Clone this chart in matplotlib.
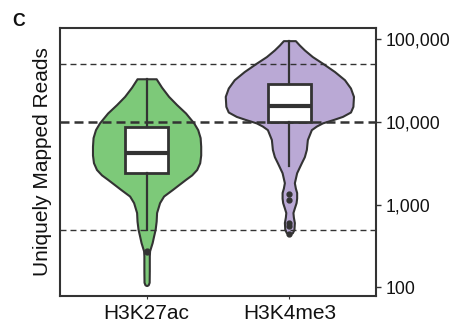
import numpy as np
import matplotlib
matplotlib.use("Agg")
import matplotlib.pyplot as plt
from matplotlib.ticker import FixedLocator, FuncFormatter, NullLocator

plt.rcParams['font.family'] = ['Liberation Sans', 'DejaVu Sans']

categories = ["H3K27ac", "H3K4me3"]
fill_colors = ["#7dc979", "#baa9d5"]

# Violin outline profiles: reads level and half-width (x data units)
k27_levels = [33270, 26300, 20370, 16220, 12820, 9730, 8070, 6460, 5080, 3980, 3210,
              2660, 2290, 2020, 1740, 1530, 1270, 1057, 802, 631, 504, 417, 348, 302,
              276, 240, 158, 115, 107, 105]
k27_half = [0.067, 0.105, 0.154, 0.210, 0.273, 0.330, 0.358, 0.375, 0.379, 0.379, 0.372,
            0.351, 0.316, 0.273, 0.224, 0.182, 0.119, 0.091, 0.070, 0.067, 0.060, 0.049,
            0.039, 0.028, 0.021, 0.019, 0.019, 0.018, 0.011, 0.0]

k4_levels = [96160, 85100, 74300, 61700, 51400, 40700, 32400, 25700, 20370, 15420, 13180,
             11670, 10720, 9730, 8910, 8070, 6120, 4650, 3800, 3210, 2430, 1840, 1585,
             1400, 1200, 1057, 912, 802, 708, 607, 501, 457, 439]
k4_half = [0.042, 0.070, 0.105, 0.161, 0.231, 0.316, 0.386, 0.428, 0.449, 0.445, 0.428,
           0.372, 0.309, 0.231, 0.189, 0.154, 0.126, 0.119, 0.105, 0.084, 0.051, 0.035,
           0.042, 0.051, 0.051, 0.047, 0.035, 0.025, 0.028, 0.035, 0.032, 0.021, 0.0]

# Box-plot statistics
q1 = [2430, 10000]
medians = [4240, 15700]
q3 = [8600, 28700]
whisker_low = [490, 2900]
whisker_high = [33300, 96000]
fliers = [[265, 272], [1330, 1128, 607, 552, 440]]

threshold_levels = [50000, 10000, 500]
ytick_values = [100, 1000, 10000, 100000]

edge = "#333333"

fig = plt.figure(figsize=(4.61, 3.24), dpi=100)
ax = fig.add_axes([0.130, 0.0864, 0.686, 0.8272])
ax.set_yscale('log')

profiles = [(k27_levels, k27_half), (k4_levels, k4_half)]
for i, (lv, hw) in enumerate(profiles):
    lv = np.array(lv, dtype=float)
    hw = np.array(hw, dtype=float)
    ax.fill_betweenx(lv, i - hw, i + hw, facecolor=fill_colors[i], edgecolor=edge,
                     linewidth=1.5, zorder=1, joinstyle='round')

# threshold lines
for lvl in threshold_levels:
    if lvl == 10000:
        ax.axhline(lvl, color=edge, linewidth=1.8, linestyle=(0, (3.6, 2.0)), zorder=2)
    else:
        ax.axhline(lvl, color=edge, linewidth=1.0, linestyle=(0, (4.3, 2.9)), zorder=2)

stats = []
for i in range(2):
    stats.append(dict(med=medians[i], q1=q1[i], q3=q3[i], whislo=whisker_low[i],
                      whishi=whisker_high[i], fliers=fliers[i], label=categories[i]))
ax.bxp(stats, positions=[0, 1], widths=0.30, showcaps=False, patch_artist=True,
       boxprops=dict(facecolor='white', edgecolor=edge, linewidth=2.0),
       medianprops=dict(color=edge, linewidth=3.0),
       whiskerprops=dict(color=edge, linewidth=1.6),
       flierprops=dict(marker='o', markersize=3.5, markerfacecolor=edge,
                       markeredgecolor=edge),
       zorder=3)

ax.set_xlim(-0.607, 1.608)
ax.set_ylim(78.5, 136800)

ax.yaxis.tick_right()
ax.yaxis.set_major_locator(FixedLocator(ytick_values))
ax.yaxis.set_minor_locator(NullLocator())
ax.yaxis.set_major_formatter(FuncFormatter(lambda v, p: f"{int(round(v)):,}"))
ax.tick_params(axis='y', which='major', length=3.5, width=1.0, color=edge,
               labelsize=12.7, pad=3, labelcolor='#111111')
ax.set_xticks([0, 1])
ax.set_xticklabels(categories)
ax.tick_params(axis='x', length=2.5, width=0.8, color=edge, labelsize=15, pad=3,
               labelcolor='#111111')

ax.yaxis.set_label_position('left')
ax.set_ylabel("Uniquely Mapped Reads", fontsize=15, labelpad=6, color='#111111')

for s in ax.spines.values():
    s.set_color(edge)
    s.set_linewidth(1.5)

fig.text(12 / 461, 1 - 26 / 324, "C", fontsize=12.7, fontweight='bold', color='#111111',
         ha='left', va='baseline')

fig.savefig("out.png", dpi=100)
